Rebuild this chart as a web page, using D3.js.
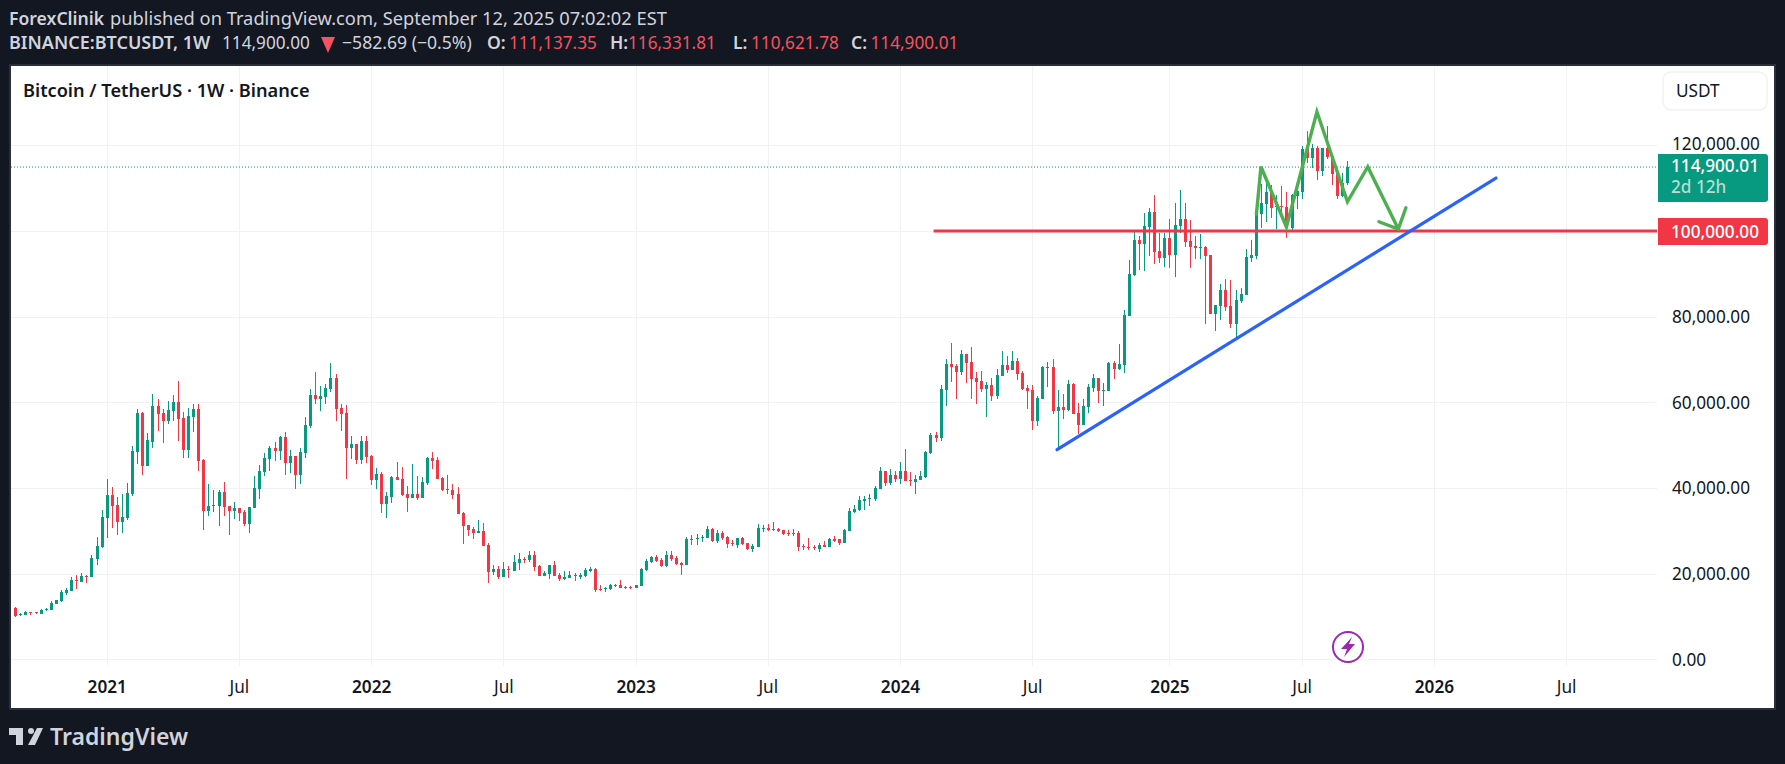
<!DOCTYPE html>
<html><head><meta charset="utf-8">
<style>html,body{margin:0;padding:0;background:#131722;overflow:hidden}svg{display:block}text{font-family:"Noto Sans",sans-serif}</style>
<script src="https://cdnjs.cloudflare.com/ajax/libs/d3/7.8.5/d3.min.js"></script>
</head><body><svg id="c" width="1785" height="764"></svg>
<script>
// weekly candles: first week index is -18 (2020-08-31); week 0 is 2021-01-04
const firstWeek = -18;
const opens = [11975,10340,10340,11040,11040,10570,11500,11500,12900,13610,15470,15940,18510,18040,19440,19210,23400,26200,
33000,38340,36000,32040,33000,38570,48380,57480,45110,50710,
59110,57480,55610,57950,60050,56310,48840,56550,58410,46510,
34610,35770,35770,39040,35770,34610,35310,34370,31570,35310,
39740,43710,46740,49310,48610,51880,45810,47450,43010,48140,
54450,61680,60750,61220,63080,65650,58650,57480,49310,50240,
46510,50940,47450,41840,43240,36240,37870,42540,42075,38570,
37640,38570,37640,41140,46980,46510,42310,39740,39510,38570,
34140,31340,30400,29470,29940,26670,20370,21070,19200,21070,
20600,22470,23410,23170,24340,21770,19440,19910,22000,19670,
18740,18970,19670,19210,19440,20600,21070,16400,16400,16400,
17340,17340,16640,16870,16640,17110,20840,22710,23870,23170,
21770,24340,23640,22470,22000,28080,28080,28310,28310,30410,
27610,29470,28540,27140,26670,28310,27140,25740,26210,30410,
30640,30180,30410,30180,29470,29240,29470,26440,26210,26210,
25740,26670,26210,28080,28080,27140,29940,34370,34840,36940,
37410,37410,39740,43950,41150,43010,42080,43950,41840,41380,
41840,42550,48150,52350,51650,62860,68920,68460,67060,71260,
69390,65660,64960,63090,64020,61460,66120,68690,67520,69630,
66820,63320,62860,55620,60760,67990,68220,57950,58880,58190,
64260,57490,54690,58890,63320,65660,62620,62620,69160,67760,
68690,80120,89700,97860,96930,100900,104400,95290,93660,98330,
94360,101130,102760,97630,96460,96000,96230,94360,80600,82460,
86190,82460,78260,83630,85030,93660,94130,103930,106270,109070,
105570,105800,105570,100660,108130,109070,119100,117000,119340,113970,
119340,117470,113500,108130,111137];
const highs = [12210,10800,11270,11040,11100,11740,11970,13610,13840,16200,16640,19210,19680,20150,19680,24340,28540,34840,
42075,40200,37870,38570,41140,49780,58410,57710,52810,61910,
60750,58410,60280,61680,64950,57710,58650,59580,59580,46740,
40910,39510,39510,41380,35770,36700,35310,34840,35540,42775,
45340,48140,49780,50710,52110,53050,48840,47450,49310,56550,
63080,67050,63780,64250,69150,66580,59580,59350,52110,50240,
52110,52110,47680,44640,43710,39040,42775,46040,44880,40440,
45580,42775,42540,47210,48380,47210,42540,43010,40910,40200,
34370,31340,30870,32500,31800,27140,22000,21770,22710,21770,
24340,24810,23870,25280,25280,22000,20600,22000,22940,20140,
20600,20600,20140,20140,21310,21540,21310,17340,16870,17570,
17570,18500,17110,17110,17340,21310,23410,24100,24340,23640,
25280,25280,24100,22710,28540,29010,29240,29010,31110,30640,
30180,29940,28770,27840,28310,28540,27140,26910,31580,31340,
31580,32040,30640,30180,30180,30410,29940,26910,28310,26670,
27140,27610,28310,28770,28080,30410,35310,36010,38110,38110,
38580,40450,44880,43950,44410,43950,46050,49080,43710,43010,
43950,48620,52820,53050,64020,70090,73830,68920,72190,71260,
72890,67060,67290,64720,65660,67760,71960,70790,71960,70320,
67290,64020,64020,61460,68460,69390,70090,62860,61920,65190,
64490,59830,60760,64260,66590,65660,64490,69390,69630,73590,
81500,93200,99960,98800,104160,105330,108370,99500,99500,102760,
106500,109530,106500,102530,98800,99260,96460,94360,82690,87590,
88760,88520,86190,86660,95760,97860,105100,111000,111900,110700,
108370,110470,109070,108600,110470,119800,123300,120270,119800,119340,
124470,117700,113500,113500,116331];
const lows = [9870,10030,10340,10340,10570,10570,11270,11500,12900,13370,15000,15940,16400,18040,17810,19210,22000,25970,
28300,30640,29000,29470,32500,38110,45580,43010,45110,49310,
53280,50480,54910,55610,50940,46980,47000,53050,43940,30170,
33440,34370,31100,33440,29000,32740,32270,31100,29470,35310,
37410,42775,43940,46280,46510,43010,43480,39740,40910,46980,
53980,59580,57950,59580,62380,55610,53280,42075,46740,45580,
45580,45810,40680,39740,34140,32970,36470,41840,38110,34370,
37640,37170,37640,40680,44410,42075,39280,38570,37410,33910,
26900,28770,28070,29470,26440,17800,19670,18730,19200,18970,
20600,20840,22470,22710,20600,19440,19440,18740,19440,18270,
18500,18970,18270,18740,19210,20370,15700,15940,15700,16170,
16870,16640,16400,16400,16640,17110,20600,22470,22710,21540,
21540,22940,22000,19670,22000,26680,26680,27380,28310,27380,
27140,27840,25970,26440,25970,26670,25510,25040,26210,29710,
29940,29940,29710,29010,28770,28770,25280,25510,25510,25510,
25040,26210,26210,27380,26670,27140,29940,34140,34610,34840,
35780,36940,39740,40450,40680,41380,40910,41610,40450,38580,
41840,42310,47910,50720,50950,59120,64720,60760,66360,64490,
60760,59590,62390,56550,60290,60760,66120,66820,67520,65190,
62860,58420,53520,54450,60760,63560,57250,48850,56090,57950,
57250,52590,54690,57490,62390,59830,59120,62620,65420,67520,
66820,80120,89470,90860,90630,94130,92260,92490,91560,91330,
89230,99500,96230,91330,93430,93430,78260,80600,76620,79190,
81290,77320,74520,83160,85030,92730,93430,100600,102060,103000,
100430,102770,98330,99730,105100,107430,115840,114670,111870,112800,
116770,110700,107430,107900,110621];
const closes = [10107,10575,11040,10810,10810,11500,11740,13140,13840,15700,16180,18510,18270,19440,19210,23640,26440,33200,
38340,35780,32040,33200,38810,48610,57480,45110,51180,59110,
57250,55610,58180,60050,56080,48840,56780,58410,46280,34610,
35770,36000,39040,35540,34610,35310,34140,31570,35540,39980,
43940,46980,49310,48610,51880,45810,47450,43010,48380,54680,
61680,60750,61450,63310,65650,58410,57250,49310,50240,46510,
50940,47210,41840,43240,36240,38110,42540,41840,38340,37640,
38570,37640,41380,46980,46280,42075,39510,39510,38340,33910,
31100,30170,29470,29940,26440,20370,21070,19200,21070,20840,
22710,23410,23170,24340,21540,19440,20140,22000,19440,18740,
19210,19670,19440,19670,20840,21070,16170,16170,16640,17340,
17110,16640,16870,16640,17340,21070,22940,23870,22940,21770,
24340,23410,22240,22000,28080,27840,28310,28540,30410,27610,
29470,28310,26910,26910,28310,26910,25740,26440,30640,30640,
30180,30410,29940,29240,29240,29470,26210,26210,25970,25970,
26670,26210,28080,27610,27140,30180,34610,35080,37180,37410,
37640,39980,43950,41150,43010,42080,43950,41610,41610,42080,
42780,48380,52350,51650,63090,68920,68220,67060,71260,69160,
65420,64720,63090,64020,61460,66360,68690,67520,69630,66590,
63090,62620,55620,60990,68220,68220,57950,58880,58190,64260,
57250,54690,59120,63560,65660,62620,62860,69160,67760,68920,
80360,89930,97860,96930,101130,104400,95060,93660,98330,94360,
101360,102760,97400,96230,96000,96230,94130,80600,82690,86190,
82230,78260,83860,85260,93890,94360,104160,106500,109070,105330,
105800,105570,100660,108370,109300,119100,117000,119340,113970,119340,
117240,113270,108130,111170,114900];

const priceTicks = [0,20000,40000,60000,80000,100000,120000];
const timeLabels = ["2021","Jul","2022","Jul","2023","Jul","2024","Jul","2025","Jul","2026","Jul"];
const timeWeeks  = [0,26,52,78,104,130,156,182,209,235,261,287];
const lastPrice = 114900.01, supportLevel = 100000, supportStartWeek = 163;
// hand-drawn annotations as [week, price]
const zigzag = [[226.1,103930],[227,114970],[232,100900],[238,127800],[244,106800],[248,114970],[254,100430]];
const arrowHead = [[250.2,102130],[254,100430],[255.5,105400]];
const trendLine = [[186.9,48920],[273.2,112340]];

const UP="#089981", DOWN="#f23645", GRID="#f1f2f5", INK="#131722";
const plot={l:11,r:1657,t:66,b:666};
const x=d3.scaleLinear().domain([0,244]).range([106.7,1347.44]);
const y=d3.scaleLinear().domain([0,120000]).range([659.3,145.2]);
const svg=d3.select("#c");
const font='"Noto Sans",sans-serif';
const AX=17.2;

// frame
svg.append("rect").attr("x",9).attr("y",64).attr("width",1767).attr("height",646).attr("fill","#2a2e39");
svg.append("rect").attr("x",11).attr("y",66).attr("width",1763).attr("height",642).attr("fill","#fff");

// grid
const g=svg.append("g").attr("shape-rendering","crispEdges");
g.selectAll("line.h").data(priceTicks).join("line").attr("class","h")
 .attr("x1",plot.l).attr("x2",plot.r).attr("y1",d=>Math.round(y(d))+.5).attr("y2",d=>Math.round(y(d))+.5).attr("stroke",GRID);
g.selectAll("line.v").data(timeWeeks).join("line").attr("class","v")
 .attr("x1",d=>Math.round(x(d))+.5).attr("x2",d=>Math.round(x(d))+.5).attr("y1",plot.t).attr("y2",plot.b).attr("stroke",GRID);

// last price dotted line
svg.append("line").attr("x1",plot.l).attr("x2",plot.r).attr("y1",y(lastPrice)).attr("y2",y(lastPrice))
 .attr("stroke",UP).attr("stroke-dasharray","1 2");

// candles
const candles=opens.map((o,k)=>({w:firstWeek+k,o,h:highs[k],l:lows[k],c:closes[k]}));
const cg=svg.append("g").attr("shape-rendering","crispEdges");
const col=d=>d.c>=d.o?UP:DOWN;
cg.selectAll("line").data(candles).join("line")
 .attr("x1",d=>Math.round(x(d.w))+.5).attr("x2",d=>Math.round(x(d.w))+.5)
 .attr("y1",d=>Math.round(y(d.h))).attr("y2",d=>Math.round(y(d.l))).attr("stroke",col);
cg.selectAll("rect").data(candles).join("rect")
 .attr("x",d=>Math.round(x(d.w))-1).attr("width",3)
 .attr("y",d=>Math.round(y(Math.max(d.o,d.c))))
 .attr("height",d=>Math.max(1,Math.round(y(Math.min(d.o,d.c)))-Math.round(y(Math.max(d.o,d.c)))))
 .attr("fill",col);

// annotations
const ln=d3.line().x(d=>x(d[0])).y(d=>y(d[1]));
svg.append("line").attr("x1",x(supportStartWeek)-2).attr("x2",plot.r).attr("y1",y(supportLevel)).attr("y2",y(supportLevel))
 .attr("stroke",DOWN).attr("stroke-width",3);
svg.append("path").attr("d",ln(zigzag)).attr("fill","none").attr("stroke","#4caf50").attr("stroke-width",3.4).attr("stroke-linecap","round").attr("stroke-linejoin","miter");
svg.append("path").attr("d",ln(arrowHead)).attr("fill","none").attr("stroke","#4caf50").attr("stroke-width",3.4).attr("stroke-linecap","round");
svg.append("path").attr("d",ln(trendLine)).attr("fill","none").attr("stroke","#2962ff").attr("stroke-width",3.2).attr("stroke-linecap","round");

// axes
const yAxis=d3.axisRight(y).tickValues(priceTicks).tickSize(0).tickPadding(15).tickFormat(d3.format(",.2f"));
const ya=svg.append("g").attr("transform",`translate(${plot.r},0)`).call(yAxis);
ya.select(".domain").remove();
ya.selectAll("text").attr("font-size",AX).attr("fill",INK).style("font-family",font)
  .attr("dy",d=>d===120000?"0.26em":"0.34em");
const xAxis=d3.axisBottom(x).tickValues(timeWeeks).tickSize(0).tickPadding(0).tickFormat((d,k)=>timeLabels[k]);
const xa=svg.append("g").attr("transform","translate(0,687)").call(xAxis);
xa.select(".domain").remove();
xa.selectAll("text").attr("font-size",AX).attr("fill",INK).style("font-family",font)
  .attr("y",0).attr("dy","0.36em").attr("font-weight",(d,k)=>timeLabels[k]==="Jul"?400:600);

// scale badges
function badge(top,h,fill){
  const l=1658,r=1768,rr=3;
  svg.append("path").attr("fill",fill)
   .attr("d",`M${l},${top}H${r-rr}Q${r},${top} ${r},${top+rr}V${top+h-rr}Q${r},${top+h} ${r-rr},${top+h}H${l}Z`);
}
badge(154,48,UP); badge(218,27,DOWN);
const label=(t,px,py,fs,fill,w)=>svg.append("text").attr("x",px).attr("y",py).attr("font-size",fs).attr("fill",fill).attr("font-weight",w||400).text(t);
label(d3.format(",.2f")(lastPrice),1671,172,AX,"#fff",500);
label("2d 12h",1671,193,AX,"#b2dfd2",500);
label(d3.format(",.2f")(supportLevel),1671,237.5,AX,"#fff",500);

// USDT box
svg.append("rect").attr("x",1663).attr("y",72).attr("width",104).attr("height",38).attr("rx",8).attr("fill","#fff").attr("stroke",GRID).attr("stroke-width",1.5);
label("USDT",1676,97,AX,INK,400);

// title
label("Bitcoin / TetherUS · 1W · Binance",23,97,18.2,INK,600);

// bolt icon
const ix=1348,iy=647;
svg.append("circle").attr("cx",ix).attr("cy",iy).attr("r",15).attr("fill","#fff").attr("stroke","#9c27b0").attr("stroke-width",2);
svg.append("path").attr("fill","#9c27b0").attr("d",`M${ix+4},${iy-10}L${ix-7},${iy+2}H${ix-1}L${ix-4},${iy+10}L${ix+7},${iy-3}H${ix+1}Z`);

// header
const HEAD="#d1d4dc", VAL="#f7525f";
label("ForexClinik",9,25,17.6,HEAD,600);
label("published on TradingView.com, September 12, 2025 07:02:02 EST",110,25,18.3,HEAD,400);
label("BINANCE:BTCUSDT, 1W",9,49,18,HEAD,600);
label("114,900.00",222,49,17.2,HEAD,400);
svg.append("path").attr("fill",VAL).attr("d","M321,37H335L328,53Z");
label("−582.69 (−0.5%)",342,49,17.6,HEAD,400);
[["O:",487,"111,137.35",509],["H:",610,"116,331.81",628],["L:",733,"110,621.78",751],["C:",851,"114,900.01",870.5]].forEach(r=>{
  label(r[0],r[1],49,17.6,HEAD,600); label(r[2],r[3],49,17.2,VAL,400);
});

// TradingView logo
svg.append("path").attr("fill",HEAD).attr("d","M9,728H23V745H16V735H9Z M37,728H43L35,745H28Z");
svg.append("circle").attr("cx",31).attr("cy",731).attr("r",3).attr("fill",HEAD);
label("TradingView",50,745,23,HEAD,600);
</script></body></html>
